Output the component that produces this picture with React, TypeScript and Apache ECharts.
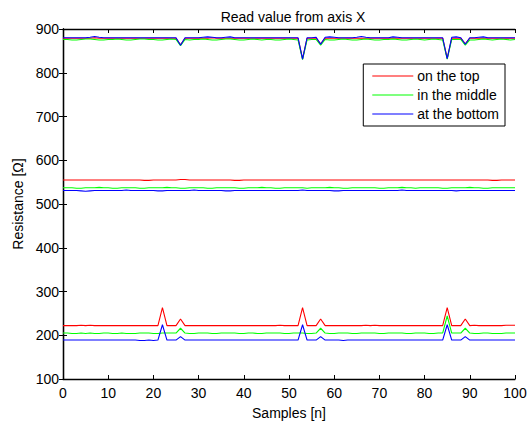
import React, { useEffect, useRef } from "react";
import * as echarts from "echarts";

const SAMPLES: number[] = Array.from({ length: 101 }, (_, i) => i);
const SERIES_NAMES = ["on the top", "in the middle", "at the bottom"];
const COLORS = ["#ff0000", "#00ff00", "#0000ff"];

// upper band
const topRed = [
  879,879,879,879,879,879,879,880,879,879,
  879,879,879,879,879,879,879,879,879,879,
  879,879,879,879,879,879,864,879,879,879,
  879,879,879,880,879,879,879,879,879,879,
  879,879,879,879,879,879,879,879,879,879,
  879,879,879,832,879,879,879,866,879,879,
  879,879,879,879,879,879,879,879,879,879,
  879,879,879,879,879,879,879,879,879,879,
  879,879,879,879,879,833,879,879,879,866,
  879,879,879,879,879,879,879,879,879,879,
  879,
];
const topGreen = [
  876,876,875,875,876,877,877,876,875,875,
  876,876,877,876,875,875,876,877,877,876,
  876,875,875,876,877,876,862,876,875,876,
  876,877,876,875,875,876,877,877,876,875,
  875,876,877,876,875,876,876,875,875,876,
  877,876,875,830,875,876,876,863,876,875,
  875,876,877,876,875,875,876,877,876,875,
  875,876,876,877,876,875,875,876,877,876,
  875,876,877,876,875,831,876,876,876,863,
  875,875,876,877,876,875,876,877,876,875,
  876,
];
const topBlue = [
  880,880,880,880,880,880,881,883,881,880,
  880,880,880,880,880,880,880,880,880,880,
  880,880,880,880,880,880,863,880,880,880,
  880,881,882,881,880,880,881,882,880,880,
  880,880,880,880,880,880,880,880,880,880,
  880,880,880,831,880,880,881,865,881,882,
  881,880,880,880,880,881,883,881,880,880,
  880,880,880,882,881,880,880,880,880,880,
  880,880,880,880,880,832,881,882,880,865,
  880,880,881,882,880,880,880,880,880,880,
  880,
];

// middle band
const midRed = [
  555,555,555,555,555,555,555,555,555,555,
  555,555,555,555,555,555,555,555,554,554,
  555,555,555,555,555,555,556,556,555,555,
  555,555,555,555,555,555,555,555,554,554,
  555,555,555,555,555,555,555,555,555,555,
  555,555,555,555,555,555,555,555,555,555,
  555,555,555,555,555,555,555,555,555,555,
  555,555,555,555,555,555,555,555,555,555,
  555,555,555,555,555,555,555,555,555,555,
  555,555,555,555,555,554,554,555,555,555,
  555,
];
const midGreen = [
  537,537,537,536,536,537,537,537,538,537,
  537,536,536,537,537,537,537,536,536,537,
  537,537,537,538,537,537,536,536,537,537,
  537,537,536,536,537,537,537,537,537,536,
  536,537,537,537,538,537,537,536,536,537,
  537,537,537,537,536,537,537,537,537,538,
  537,537,536,536,537,537,537,537,537,537,
  536,536,537,537,537,538,537,537,536,537,
  537,537,537,537,536,536,537,537,537,537,
  538,537,537,536,536,537,537,537,537,537,
  537,
];
const midBlue = [
  531,531,531,531,530,529,530,531,531,531,
  531,531,531,531,532,531,531,531,531,531,
  531,530,530,531,531,531,531,531,531,532,
  531,531,531,531,531,531,530,530,531,531,
  531,531,531,531,531,531,531,531,531,531,
  531,531,531,532,531,531,531,531,531,531,
  530,530,531,531,531,531,531,531,531,531,
  531,531,531,531,531,532,531,531,531,531,
  531,531,531,531,531,531,531,530,531,531,
  531,531,531,531,531,531,531,531,531,531,
  531,
];

// lower band
const lowRed = [
  222,222,222,222,223,222,223,222,222,222,
  222,222,222,222,222,222,222,222,222,222,
  222,222,263,222,222,222,237,222,222,222,
  222,222,222,222,222,222,222,222,222,222,
  222,222,222,222,222,222,222,222,223,222,
  222,222,222,263,222,222,222,237,222,222,
  222,222,222,222,222,222,222,223,222,223,
  222,222,222,222,222,222,222,222,222,222,
  222,222,222,222,222,263,222,222,222,237,
  222,223,222,222,222,222,222,222,223,223,
  223,
];
const lowGreen = [
  205,205,204,204,205,204,205,204,204,205,
  205,204,204,205,204,204,204,205,205,205,
  204,204,205,205,205,205,216,205,204,204,
  205,205,205,204,204,205,205,205,205,204,
  204,205,205,204,204,205,205,205,205,204,
  204,205,205,205,204,204,205,216,205,204,
  204,205,205,205,204,204,205,205,205,205,
  204,204,205,205,205,205,204,204,205,205,
  205,204,204,205,205,244,205,205,205,216,
  205,204,204,205,205,204,204,204,205,205,
  205,
];
const lowBlue = [
  189,189,189,189,189,189,189,189,189,189,
  189,189,189,189,189,189,189,188,188,189,
  188,189,224,189,189,189,197,189,189,189,
  189,189,189,189,189,189,189,189,189,189,
  189,189,189,189,189,189,189,189,189,189,
  189,189,189,224,189,189,189,197,189,189,
  189,189,188,189,189,189,189,189,189,189,
  189,189,189,189,189,189,189,189,189,189,
  189,189,189,189,189,224,189,189,189,197,
  189,189,189,189,189,189,189,189,189,189,
  189,
];

const BANDS: number[][][] = [
  [topRed, midRed, lowRed],
  [topGreen, midGreen, lowGreen],
  [topBlue, midBlue, lowBlue],
];

const FONT = "Liberation Sans, Arial, sans-serif";
const FS = 14;

export default function App() {
  const ref = useRef<HTMLDivElement>(null);
  useEffect(() => {
    if (!ref.current) return;
    const chart = echarts.init(ref.current, undefined, { renderer: "svg" });
    const series: any[] = [];
    BANDS.forEach((bands, ci) => {
      bands.forEach((arr) => {
        series.push({
          name: SERIES_NAMES[ci],
          type: "line",
          symbol: "none",
          color: COLORS[ci],
          lineStyle: { width: 1.1, color: COLORS[ci] },
          data: arr.map((v, i) => [SAMPLES[i], v]),
        });
      });
    });
    const axisLabel = { color: "#000", fontSize: FS, fontFamily: FONT };
    const axisLine = { show: true, lineStyle: { color: "#000", width: 1.3 } };
    const axisTick = { show: true, inside: true, length: 4, lineStyle: { color: "#000" } };
    chart.setOption({
      animation: false,
      backgroundColor: "#fff",
      textStyle: { fontFamily: FONT },
      title: {
        text: "Read value from axis X",
        left: 288,
        top: 5,
        textAlign: "center",
        textStyle: { fontSize: FS, fontWeight: "normal", color: "#000", fontFamily: FONT },
      },
      grid: { left: 63, right: 17, top: 29, bottom: 42, show: false },
      legend: {
        data: SERIES_NAMES.map((n, i) => ({
          name: n,
          icon: "rect",
          itemStyle: { color: COLORS[i], borderWidth: 0, opacity: 1 },
        })),
        orient: "vertical",
        right: 27,
        top: 64,
        itemWidth: 41,
        itemHeight: 1,
        itemGap: 5,
        padding: [5, 6, 5, 9],
        borderColor: "#000",
        borderWidth: 1,
        borderRadius: 0,
        backgroundColor: "#fff",
        textStyle: { fontSize: FS, color: "#000", fontFamily: FONT, padding: [0, 0, 0, -1] },
      },
      xAxis: [
        {
          type: "value",
          min: 0,
          max: 100,
          interval: 10,
          name: "Samples [n]",
          nameLocation: "middle",
          nameGap: 27,
          nameTextStyle: { fontSize: FS, color: "#000", fontFamily: FONT },
          axisLine,
          axisTick,
          axisLabel: { ...axisLabel, margin: 7 },
          splitLine: { show: false },
        },
        {
          type: "value",
          position: "top",
          min: 0,
          max: 100,
          interval: 10,
          axisLine,
          axisTick,
          axisLabel: { show: false },
          splitLine: { show: false },
        },
      ],
      yAxis: [
        {
          type: "value",
          min: 100,
          max: 900,
          interval: 100,
          name: "Resistance [Ω]",
          nameLocation: "middle",
          nameGap: 36,
          nameTextStyle: { fontSize: FS, color: "#000", fontFamily: FONT },
          axisLine,
          axisTick,
          axisLabel: { ...axisLabel, margin: 4 },
          splitLine: { show: false },
        },
        {
          type: "value",
          position: "right",
          min: 100,
          max: 900,
          interval: 100,
          axisLine,
          axisTick,
          axisLabel: { show: false },
          splitLine: { show: false },
        },
      ],
      series,
    });
    return () => chart.dispose();
  }, []);
  return (
    <div
      ref={ref}
      style={{ position: "fixed", left: 0, top: 0, width: 532, height: 425, background: "#fff" }}
    />
  );
}
